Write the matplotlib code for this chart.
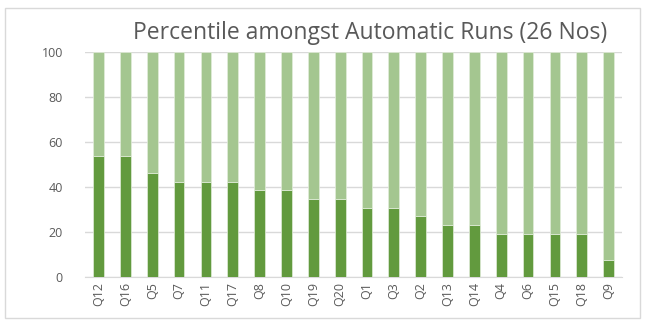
import numpy as np
import matplotlib.pyplot as plt
from matplotlib.patches import Rectangle

questions = ['Q12', 'Q16', 'Q5', 'Q7', 'Q11', 'Q17', 'Q8', 'Q10', 'Q19', 'Q20',
             'Q1', 'Q3', 'Q2', 'Q13', 'Q14', 'Q4', 'Q6', 'Q15', 'Q18', 'Q9']
percentile = [53.8, 53.8, 46.2, 42.3, 42.3, 42.3, 38.5, 38.5, 34.6, 34.6,
              30.8, 30.8, 26.9, 23.1, 23.1, 19.2, 19.2, 19.2, 19.2, 7.7]
rest = [100 - p for p in percentile]

plt.rcParams['font.family'] = ['Open Sans', 'DejaVu Sans']

fig = plt.figure(figsize=(6.5, 3.24), dpi=100)
fig.patches.append(Rectangle((0.008, 0.02), 0.977, 0.955, transform=fig.transFigure,
                             fill=False, edgecolor='#D9D9D9', linewidth=1))
ax = fig.add_axes([0.131, 0.145, 0.826, 0.695])

x = np.arange(len(questions))
ax.bar(x, percentile, width=0.4, color='#629A3E', edgecolor='#E2EDDA', linewidth=0.5, zorder=3)
ax.bar(x, rest, bottom=percentile, width=0.4, color='#A4C690', edgecolor='#E2EDDA', linewidth=0.5, zorder=3)

ax.set_ylim(0, 100)
ax.set_xlim(-0.5, len(questions) - 0.5)
ax.set_yticks(np.arange(0, 101, 20))
ax.set_xticks(x)
ax.set_xticklabels(questions, rotation=90)
ax.tick_params(axis='both', length=0, labelsize=9, colors='#595959')
ax.tick_params(axis='y', pad=16)
ax.grid(axis='y', color='#D9D9D9', linewidth=1, zorder=0)
for s in ['top', 'right', 'left']:
    ax.spines[s].set_visible(False)
ax.spines['bottom'].set_color('#D9D9D9')

fig.text(0.57, 0.897, 'Percentile amongst Automatic Runs (26 Nos)', ha='center', va='center',
         fontsize=16.5, color='#595959')

fig.savefig('out.png', dpi=100)
